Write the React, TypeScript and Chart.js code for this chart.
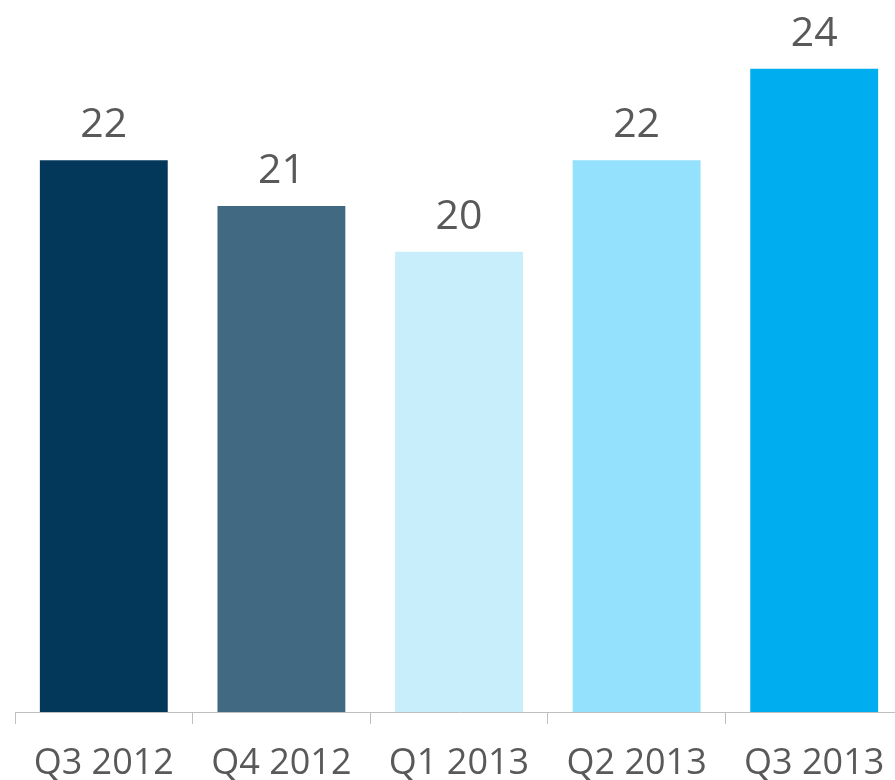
import React, { useEffect, useRef } from "react";
import { Chart, registerables } from "chart.js";

Chart.register(...registerables);

const categories = ["Q3 2012", "Q4 2012", "Q1 2013", "Q2 2013", "Q3 2013"];
const values = [22, 21, 20, 22, 24];
const barColors = ["#03385A", "#416A82", "#C9EEFB", "#94E1FD", "#00AEEF"];

const TEXT_COLOR = "#595959";
const FONT = "'Open Sans', 'Noto Sans', sans-serif";

const valueLabels = {
  id: "valueLabels",
  afterDatasetsDraw(chart: any) {
    const ctx = chart.ctx;
    const meta = chart.getDatasetMeta(0);
    ctx.save();
    ctx.fillStyle = TEXT_COLOR;
    ctx.font = `41px ${FONT}`;
    ctx.textAlign = "center";
    ctx.textBaseline = "alphabetic";
    meta.data.forEach((bar: any, i: number) => {
      ctx.fillText(String(values[i]), bar.x, bar.y - 23);
    });
    ctx.restore();
  },
};

export default function App() {
  const ref = useRef<HTMLCanvasElement | null>(null);
  useEffect(() => {
    document.body.style.overflow = "hidden";
    if (!ref.current) return;
    const chart = new Chart(ref.current, {
      type: "bar",
      data: {
        labels: categories,
        datasets: [
          {
            data: values,
            backgroundColor: barColors,
            borderWidth: 0,
            categoryPercentage: 1,
            barPercentage: 0.72,
          },
        ],
      },
      options: {
        animation: false,
        responsive: false,
        maintainAspectRatio: false,
        layout: { padding: { left: 15, right: 0, top: 0, bottom: 0 } },
        plugins: {
          legend: { display: false },
          tooltip: { enabled: false },
        },
        scales: {
          x: {
            z: 1,
            offset: true,
            grid: {
              drawOnChartArea: false,
              drawTicks: true,
              tickLength: 12,
              color: "#BFBFBF",
              lineWidth: 1,
              offset: true,
            },
            border: { display: true, color: "#BFBFBF", width: 1 },
            ticks: {
              color: TEXT_COLOR,
              font: { family: FONT, size: 36 },
              padding: 18,
              maxRotation: 0,
              autoSkip: false,
            },
            afterFit(scale: any) {
              scale.height = 68;
            },
          },
          y: {
            display: false,
            min: 9.945,
            max: 25.5,
          },
        },
      },
      plugins: [valueLabels],
    });
    return () => chart.destroy();
  }, []);
  return (
    <div style={{ position: "fixed", left: 0, top: 0, width: 903, height: 780, background: "#fff" }}>
      <canvas ref={ref} width={903} height={780} style={{ display: "block" }} />
    </div>
  );
}
